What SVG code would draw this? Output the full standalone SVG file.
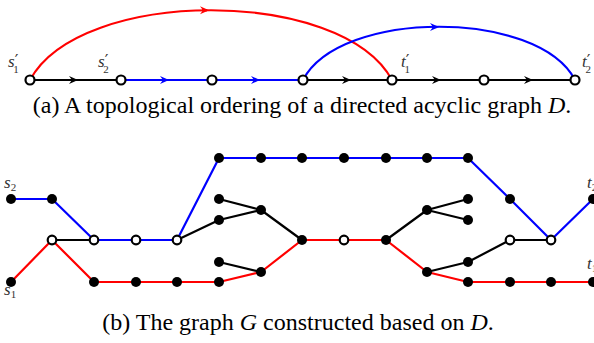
<svg xmlns="http://www.w3.org/2000/svg" width="594" height="343" viewBox="0 0 594 343">
<style>
.e{fill:none;stroke-width:2.2;stroke-linejoin:round}
.k{stroke:#000}.r{stroke:#f00}.b{stroke:#00f}
.o{fill:#fff;stroke:#000;stroke-width:2.2}
.f{fill:#000}
.cap{font-family:"Liberation Serif",serif;font-size:24px;fill:#000}
.lab{font-family:"Liberation Serif",serif;font-style:italic;font-size:17px;fill:#333}
.sub{font-style:normal;font-size:11px}
.pr{font-family:"DejaVu Sans",sans-serif;font-style:normal;font-size:16px}
</style>
<defs>
<marker id="ak" viewBox="0 0 10 10" refX="7" refY="5" markerWidth="10" markerHeight="10" markerUnits="userSpaceOnUse" orient="auto"><path d="M0,1 L9,5 L0,9 L3,5 Z" fill="#000"/></marker>
<marker id="ar" viewBox="0 0 10 10" refX="7" refY="5" markerWidth="10" markerHeight="10" markerUnits="userSpaceOnUse" orient="auto"><path d="M0,1 L9,5 L0,9 L3,5 Z" fill="#f00"/></marker>
<marker id="ab" viewBox="0 0 10 10" refX="7" refY="5" markerWidth="10" markerHeight="10" markerUnits="userSpaceOnUse" orient="auto"><path d="M0,1 L9,5 L0,9 L3,5 Z" fill="#00f"/></marker>
</defs>
<g id="connectors-a">
<path class="e k" d="M30,80 L76,80" marker-end="url(#ak)"/><path class="e k" d="M74,80 L121,80"/>
<path class="e b" d="M121,80 L167,80" marker-end="url(#ab)"/><path class="e b" d="M165,80 L212,80"/>
<path class="e b" d="M212,80 L258,80" marker-end="url(#ab)"/><path class="e b" d="M256,80 L303,80"/>
<path class="e k" d="M303,80 L349,80" marker-end="url(#ak)"/><path class="e k" d="M347,80 L392,80"/>
<path class="e k" d="M392,80 L439,80" marker-end="url(#ak)"/><path class="e k" d="M437,80 L484,80"/>
<path class="e k" d="M484,80 L531,80" marker-end="url(#ak)"/><path class="e k" d="M529,80 L575,80"/>
<path class="e r" d="M30,80 C80,-13 342,-13 392,80"/>
<path class="e r" d="M202,10.2 L207,10.2" marker-end="url(#ar)"/>
<path class="e b" d="M303,80 C340,9 538,9 575,80"/>
<path class="e b" d="M432,27 L437,27" marker-end="url(#ab)"/>
</g>
<g id="nodes-a">
<circle class="o" cx="30" cy="80" r="4.5"/>
<circle class="o" cx="121" cy="80" r="4.5"/>
<circle class="o" cx="212" cy="80" r="4.5"/>
<circle class="o" cx="303" cy="80" r="4.5"/>
<circle class="o" cx="392" cy="80" r="4.5"/>
<circle class="o" cx="484" cy="80" r="4.5"/>
<circle class="o" cx="575" cy="80" r="4.5"/>
</g>
<g id="labels-a">
<text class="lab" x="8" y="67">s<tspan class="pr" dy="-1">′</tspan><tspan class="sub" dx="-5" dy="7">1</tspan></text>
<text class="lab" x="98" y="67">s<tspan class="pr" dy="-1">′</tspan><tspan class="sub" dx="-5" dy="7">2</tspan></text>
<text class="lab" x="401" y="67">t<tspan class="pr" dy="-1">′</tspan><tspan class="sub" dx="-5" dy="7">1</tspan></text>
<text class="lab" x="582" y="67">t<tspan class="pr" dy="-1">′</tspan><tspan class="sub" dx="-5" dy="7">2</tspan></text>
</g>
<text class="cap" x="302" y="113" text-anchor="middle">(a) A topological ordering of a directed acyclic graph <tspan font-style="italic">D</tspan>.</text>
<g id="connectors-b">
<polyline class="e b" points="11,199 52,199 94,240 136,240 177,240 219,158 261,158 302,158 344,158 386,158 427,158 468,158 510,199 551,240 593,199"/>
<polyline class="e r" points="11,282 52,240 94,282 136,282 177,282 219,282 261,272 302,240 344,240 386,240 427,272 468,282 510,282 551,282 593,282"/>
<polyline class="e k" points="52,240 94,240"/>
<polyline class="e k" points="177,240 219,220 261,210 302,240"/>
<polyline class="e k" points="219,199 261,210"/>
<polyline class="e k" points="219,262 261,272"/>
<polyline class="e k" points="386,240 427,210 468,199"/>
<polyline class="e k" points="427,210 468,220"/>
<polyline class="e k" points="427,272 468,262 510,240 551,240"/>
</g>
<g id="nodes-b">
<circle class="f" cx="11" cy="199" r="5"/><circle class="f" cx="52" cy="199" r="5"/>
<circle class="f" cx="11" cy="282" r="5"/>
<circle class="o" cx="52" cy="240" r="4.3"/><circle class="o" cx="94" cy="240" r="4.3"/>
<circle class="o" cx="136" cy="240" r="4.3"/><circle class="o" cx="177" cy="240" r="4.3"/>
<circle class="f" cx="94" cy="282" r="5"/><circle class="f" cx="136" cy="282" r="5"/>
<circle class="f" cx="177" cy="282" r="5"/><circle class="f" cx="219" cy="282" r="5"/>
<circle class="f" cx="219" cy="158" r="5"/><circle class="f" cx="261" cy="158" r="5"/>
<circle class="f" cx="302" cy="158" r="5"/><circle class="f" cx="344" cy="158" r="5"/>
<circle class="f" cx="386" cy="158" r="5"/><circle class="f" cx="427" cy="158" r="5"/>
<circle class="f" cx="468" cy="158" r="5"/>
<circle class="f" cx="219" cy="199" r="5"/><circle class="f" cx="219" cy="220" r="5"/>
<circle class="f" cx="261" cy="210" r="5"/>
<circle class="f" cx="219" cy="262" r="5"/><circle class="f" cx="261" cy="272" r="5"/>
<circle class="f" cx="302" cy="240" r="5"/><circle class="o" cx="344" cy="240" r="4.3"/>
<circle class="f" cx="386" cy="240" r="5"/>
<circle class="f" cx="427" cy="210" r="5"/><circle class="f" cx="468" cy="199" r="5"/>
<circle class="f" cx="468" cy="220" r="5"/>
<circle class="f" cx="427" cy="272" r="5"/><circle class="f" cx="468" cy="262" r="5"/>
<circle class="o" cx="510" cy="240" r="4.3"/><circle class="o" cx="551" cy="240" r="4.3"/>
<circle class="f" cx="510" cy="199" r="5"/><circle class="f" cx="593" cy="199" r="5"/>
<circle class="f" cx="468" cy="282" r="5"/><circle class="f" cx="510" cy="282" r="5"/>
<circle class="f" cx="551" cy="282" r="5"/><circle class="f" cx="593" cy="282" r="5"/>
</g>
<g id="labels-b">
<text class="lab" x="4" y="188">s<tspan class="sub" dy="3">2</tspan></text>
<text class="lab" x="4" y="295">s<tspan class="sub" dy="3">1</tspan></text>
<text class="lab" x="587" y="188">t<tspan class="sub" dy="3">2</tspan></text>
<text class="lab" x="587" y="269">t<tspan class="sub" dy="3">1</tspan></text>
</g>
<text class="cap" x="298" y="330" text-anchor="middle">(b) The graph <tspan font-style="italic">G</tspan> constructed based on <tspan font-style="italic">D</tspan>.</text>
</svg>
